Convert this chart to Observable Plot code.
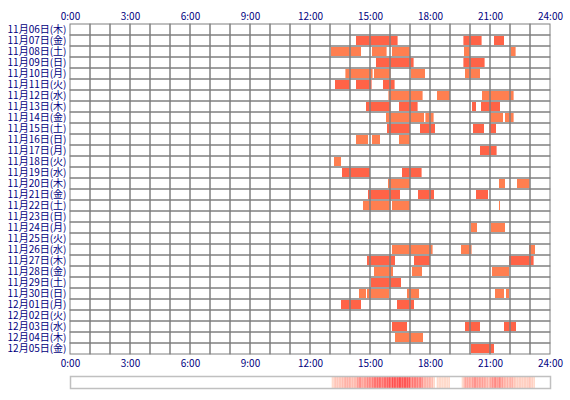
<!DOCTYPE html>
<html>
<head>
<meta charset="utf-8">
<script src="https://cdn.jsdelivr.net/npm/d3@7"></script>
<script src="https://cdn.jsdelivr.net/npm/@observablehq/plot@0.6"></script>
<style>
  body { margin: 0; background: #fff; }
  svg { display: block; }
</style>
</head>
<body>
<div id="chart"></div>
<script>
const days = ["11月06日(木)","11月07日(金)","11月08日(土)","11月09日(日)","11月10日(月)","11月11日(火)","11月12日(水)","11月13日(木)","11月14日(金)","11月15日(土)","11月16日(日)","11月17日(月)","11月18日(火)","11月19日(水)","11月20日(木)","11月21日(金)","11月22日(土)","11月23日(日)","11月24日(月)","11月25日(火)","11月26日(水)","11月27日(木)","11月28日(金)","11月29日(土)","11月30日(日)","12月01日(月)","12月02日(火)","12月03日(水)","12月04日(木)","12月05日(金)"];
const hourTicks = [0, 3, 6, 9, 12, 15, 18, 21, 24];
const hours = d3.range(0, 24);
// [day index, start hour, end hour]
const sessions = [
  [1,14.3,16.38],[1,19.67,20.58],[1,21.2,21.7],
  [2,13.05,14.55],[2,15.1,15.83],[2,16.1,17.0],[2,19.7,20.0],[2,22.03,22.28],
  [3,15.3,17.18],[3,19.67,20.73],
  [4,13.77,15.13],[4,15.2,16.03],[4,17.05,17.75],[4,19.75,20.5],
  [5,13.25,14.0],[5,14.3,15.08],[5,15.65,16.23],
  [6,15.92,17.63],[6,18.35,19.0],[6,20.6,22.18],
  [7,14.8,16.03],[7,16.45,17.38],[7,20.1,20.3],[7,20.55,21.5],
  [8,15.8,17.7],[8,17.77,18.18],[8,21.0,21.65],[8,21.75,22.18],
  [9,15.85,17.0],[9,17.5,18.25],[9,20.15,20.7],[9,20.97,21.3],
  [10,14.3,14.9],[10,15.1,15.5],[10,16.45,17.0],
  [11,20.5,21.33],
  [12,13.2,13.55],
  [13,13.6,15.0],[13,16.6,17.58],
  [14,15.9,17.0],[14,21.45,21.75],[14,22.35,22.98],
  [15,14.9,16.5],[15,17.4,18.2],[15,20.3,20.9],
  [16,14.65,16.03],[16,16.1,17.0],[16,21.45,21.5],
  [18,20.05,20.35],[18,21.05,21.75],
  [20,16.1,18.13],[20,19.55,20.08],[20,22.95,23.25],
  [21,14.85,16.25],[21,17.2,18.0],[21,21.95,23.18],
  [22,15.2,16.15],[22,17.1,17.6],[22,21.1,21.95],
  [23,15.05,16.55],
  [24,14.45,14.8],[24,14.85,15.95],[24,16.85,17.45],[24,21.25,21.7],[24,21.8,21.95],
  [25,13.55,14.55],[25,16.35,17.2],
  [27,16.1,16.85],[27,19.75,20.5],[27,21.7,22.3],
  [28,16.25,17.65],
  [29,20.05,21.2]
];
const barColors = ["#ff7f50", "#ff6347"];

const sessionData = sessions.map(([i, s, e]) => ({day: days[i], i, s, e}));
const gridData = days.flatMap(d => hours.map(h => ({day: d, h})));

// density strip, derived from the sessions (5-minute bins)
const binStarts = d3.range(0, 24, 1/12);
const counts = binStarts.map(b => {
  const c = b + 1/24;
  return sessions.filter(([i, s, e]) => c >= s && c < e).length;
});
const maxCount = d3.max(counts);
const stripData = binStarts.map((b, k) => ({b, n: counts[k]})).filter(d => d.n > 0);
const stripColor = d3.interpolateRgb("#ffe4d4", "#ff4d4d");

const font = "'Noto Sans CJK JP', 'Noto Sans', sans-serif";

const main = Plot.plot({
  width: 570,
  height: 375,
  marginTop: 24,
  marginBottom: 21,
  marginLeft: 70,
  marginRight: 20,
  style: {fontFamily: font, fontSize: "10px", color: "#000080", background: "#fff"},
  x: {domain: [0, 24], label: null},
  y: {domain: days, padding: 0, label: null},
  marks: [
    Plot.barX(sessionData, {
      x1: "s", x2: "e", y: "day",
      fill: d => barColors[d.i % 2],
      insetTop: 1, insetBottom: 1
    }),
    Plot.barX(gridData, {
      x1: "h", x2: d => d.h + 1, y: "day",
      fill: "none", stroke: "#808080", strokeWidth: 1
    }),
    Plot.axisX({anchor: "top", ticks: hourTicks, tickFormat: d => d + ":00", tickSize: 0, tickPadding: 5, fill: "#000080", label: null}),
    Plot.axisX({anchor: "bottom", ticks: hourTicks, tickFormat: d => d + ":00", tickSize: 0, tickPadding: 5, fill: "#000080", label: null}),
    Plot.axisY({anchor: "left", tickSize: 0, tickPadding: 4, fill: "#000080", fontSize: 10, label: null})
  ]
});

const strip = Plot.plot({
  width: 570,
  height: 25,
  marginTop: 1,
  marginBottom: 12,
  marginLeft: 70,
  marginRight: 20,
  style: {background: "#fff"},
  x: {domain: [0, 24], axis: null},
  y: {domain: [0, 1], axis: null},
  color: {type: "identity"},
  marks: [
    Plot.rectX(stripData, {
      x1: "b", x2: d => d.b + 1/12, y1: 0, y2: 1,
      fill: d => stripColor(d.n / maxCount)
    }),
    Plot.frame({stroke: "#c0c0c0", strokeWidth: 1.5})
  ]
});

document.getElementById("chart").append(main, strip);
</script>
</body>
</html>
